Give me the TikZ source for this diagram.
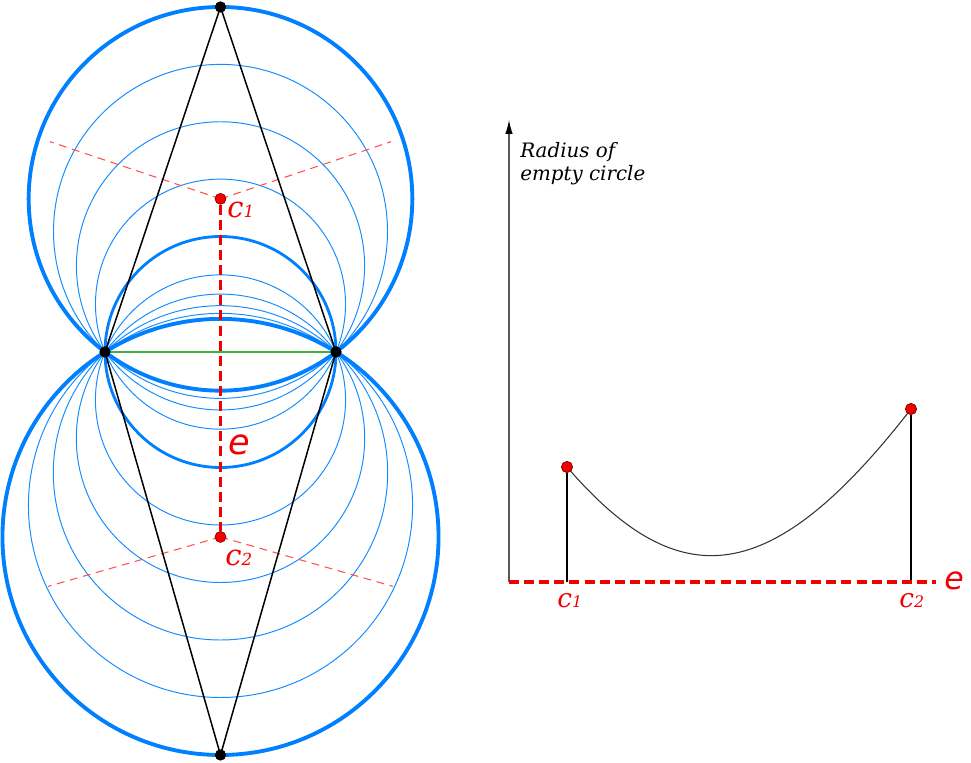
\documentclass[tikz,border=0pt]{standalone}
\usepackage{fontspec}
\setmainfont{DejaVu Serif}
\newfontfamily\dvsans{DejaVu Sans}
\usetikzlibrary{arrows.meta}
\definecolor{cblue}{RGB}{0,128,255}
\definecolor{tblue}{RGB}{20,140,255}
\definecolor{cgreen}{RGB}{60,180,60}
\definecolor{cred}{RGB}{240,0,0}
\definecolor{lred}{RGB}{255,80,80}
\definecolor{dred}{RGB}{150,0,0}
\tikzset{
  thinc/.style={draw=tblue, line width=0.55pt},
  bigc/.style={draw=cblue, line width=2.2pt},
  midc/.style={draw=cblue, line width=1.6pt},
  edgeline/.style={draw=black, line width=0.85pt},
  chord/.style={draw=cgreen, line width=1.2pt},
  bigdash/.style={draw=cred, line width=2.1pt, dash pattern=on 5.7pt off 2.9pt},
  smalldash/.style={draw=lred, line width=0.6pt, dash pattern=on 4.5pt off 3.2pt},
  blackdot/.style={circle, fill=black, inner sep=0pt, minimum size=0.22cm},
  reddot/.style={circle, fill=cred, draw=dred, line width=0.4pt, inner sep=0pt, minimum size=0.22cm},
  clab/.style={text=cred, inner sep=0pt, anchor=base west, font=\itshape},
  elab/.style={text=cred, inner sep=0pt, anchor=base west},
  axisline/.style={draw=black!65, line width=0.6pt},
  stem/.style={draw=black, line width=0.6pt},
  curveline/.style={draw=black!80, line width=0.6pt},
}
\begin{document}
\begin{tikzpicture}[x=0.02cm, y=-0.02cm]
\useasboundingbox (0,0) rectangle (971,763);

% ---------- left figure ----------
\coordinate (A) at (105,352);
\coordinate (B) at (336,352);
\coordinate (M) at (220.5,352);
\coordinate (C1) at (220.5,198.83);
\coordinate (C2) at (220.5,536.95);

% thin circles, upper family
\foreach \d/\r in {47.86/125.02, 86.16/144.09, 120.62/167.00}
  \path[thinc] (220.5,{352-\d}) circle[radius=\r];
% thin circles, lower family
\foreach \d/\r in {47.94/125.06, 86.31/144.19, 120.84/167.16, 153.44/192.06}
  \path[thinc] (220.5,{352+\d}) circle[radius=\r];
% thick circles
\path[midc] (M) circle[radius=115.5];
\path[bigc] (C1) circle[radius=191.83];
\path[bigc] (C2) circle[radius=218.05];

% bisector dashes
\coordinate (UL) at (50,141.7);
\coordinate (UR) at (391,141.7);
\coordinate (LL) at (48,586.4);
\coordinate (LR) at (393,586.4);
\path[smalldash] (C1) -- (UL);
\path[smalldash] (C1) -- (UR);
\path[smalldash] (C2) -- (LL);
\path[smalldash] (C2) -- (LR);

% rhombus
\node[blackdot] (T) at (220.5,7) {};
\node[blackdot] (Bo) at (220.5,755) {};
\node[blackdot] (PA) at (A) {};
\node[blackdot] (PB) at (B) {};
\path[edgeline] (T.center) -- (PA.center) -- (Bo.center) -- (PB.center) -- cycle;
\path[chord] (PA.center) -- (PB.center);
\node[blackdot] at (T) {};
\node[blackdot] at (Bo) {};
\node[blackdot] at (PA) {};
\node[blackdot] at (PB) {};

% edge e (dual)
\node[reddot] (c1) at (C1) {};
\node[reddot] (c2) at (C2) {};
\path[bigdash] (c1) -- (c2);

\node[clab] (l1) at (227,218) {{\fontsize{16.5}{16}\selectfont c}{\fontsize{9.5}{9}\selectfont 1}};
\node[clab] (l2) at (225,566) {{\fontsize{16.5}{16}\selectfont c}{\fontsize{9.5}{9}\selectfont 2}};
\node[elab] (le) at (228,455) {\dvsans\itshape\fontsize{20}{20}\selectfont e};

% ---------- right figure ----------
\coordinate (O) at (509,582);
\coordinate (Ytop) at (509,120);
\coordinate (Eend) at (936,582);
\path[axisline, -{Latex[length=0.28cm,width=0.15cm,black]}] (O) -- (Ytop);
\node[inner sep=0pt, anchor=base west, font=\itshape\fontsize{11.3}{13.6}\selectfont, align=left] (rad) at (520,181) {Radius of\\empty circle};

\node[reddot] (r1) at (567,467) {};
\node[reddot] (r2) at (911,409) {};
\coordinate (b1) at (567,582);
\coordinate (b2) at (911,582);
\path[stem] (r1) -- (b1);
\path[stem] (r2) -- (b2);
\path[curveline] (r1.center) .. controls (680,598) and (772,588) .. (r2.center);
\path[bigdash] (O) -- (Eend);
\node[reddot] at (r1) {};
\node[reddot] at (r2) {};

\node[clab] (rl1) at (557,607) {{\fontsize{15}{15}\selectfont c}{\fontsize{9}{9}\selectfont 1}};
\node[clab] (rl2) at (899,607) {{\fontsize{15}{15}\selectfont c}{\fontsize{9}{9}\selectfont 2}};
\node[elab] (re) at (944,590) {\dvsans\itshape\fontsize{18}{18}\selectfont e};
\end{tikzpicture}
\end{document}
